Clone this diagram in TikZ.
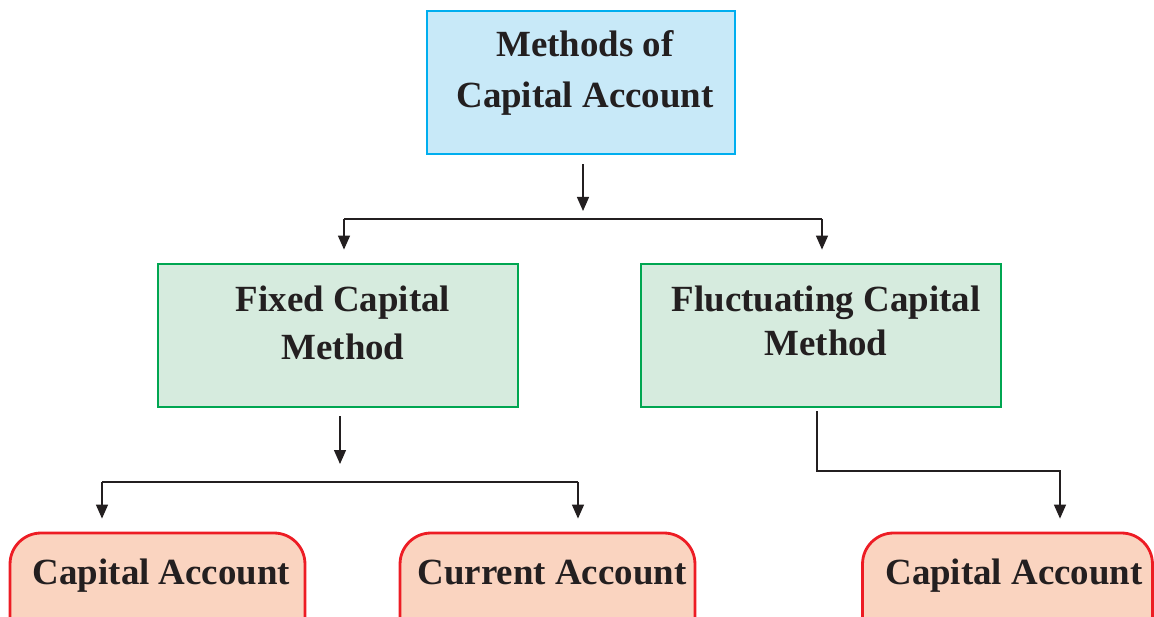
\documentclass[tikz,border=0pt]{standalone}
\usepackage{fontspec}
\setmainfont{Liberation Serif}
\usetikzlibrary{arrows.meta,positioning}
\definecolor{topblue}{RGB}{0,174,239}
\definecolor{topfill}{RGB}{200,233,248}
\definecolor{midgreen}{RGB}{0,166,81}
\definecolor{midfill}{RGB}{214,235,222}
\definecolor{lowred}{RGB}{237,28,36}
\definecolor{lowfill}{RGB}{250,212,192}
\definecolor{inkgray}{RGB}{35,31,32}
\tikzset{
  boxtext/.style={font=\fontsize{21}{27}\selectfont\bfseries, text=inkgray, align=center, inner sep=0pt},
  topbox/.style={draw=topblue, fill=topfill, line width=1.6pt, minimum width=6.16cm, minimum height=2.86cm},
  methodbox/.style={draw=midgreen, fill=midfill, line width=1.6pt, minimum width=7.2cm, minimum height=2.86cm},
  accbox/.style={draw=lowred, fill=lowfill, line width=1.6pt, rounded corners=0.62cm, minimum height=2.4cm},
  link/.style={draw=inkgray, line width=0.8pt},
  linkarrow/.style={link, -{Triangle[length=2.8mm, width=2.4mm]}}
}
\begin{document}
\begin{tikzpicture}[x=0.02cm, y=-0.02cm]
\clip (0,0) rectangle (1154,617);
% Top box
\node[topbox] (top) at (581,82.5) {};
\node[boxtext, font=\fontsize{21}{28.7}\selectfont\bfseries] (toptext) at (585,73) {Methods of\\Capital Account};
% Method boxes
\node[methodbox] (fixed) at (338,335.5) {};
\node[boxtext] (fixedtext) at (343,323) {Fixed Capital\\Method};
\node[methodbox] (fluct) at (821,335.5) {};
\node[boxtext, font=\fontsize{21}{25}\selectfont\bfseries] (flucttext) at (826,321) {Fluctuating Capital\\Method};
% Account boxes
\node[accbox, minimum width=5.9cm] (capa) at (157.5,593) {};
\node[boxtext, anchor=base] (capatext) at (161.5,585) {Capital Account};
\node[accbox, minimum width=5.9cm] (cura) at (547.5,593) {};
\node[boxtext, anchor=base] (curatext) at (552,585) {Current Account};
\node[accbox, minimum width=5.8cm] (capb) at (1007.5,593) {};
\node[boxtext, anchor=base] (capbtext) at (1014,585) {Capital Account};
% Split points
\coordinate (topsplit) at (583,219);
\coordinate (topleft) at (344,219);
\coordinate (topright) at (822,219);
\coordinate (fixedsplit) at (340,482);
\coordinate (lowleft) at (102,482);
\coordinate (lowright) at (578,482);
\coordinate (fluctbend) at (817,471);
\coordinate (fluctend) at (1060,471);
% Arrows from top
\draw[linkarrow, shorten <=0.18cm, shorten >=0.16cm] (top.south -| topsplit) -- (topsplit);
\draw[link] (topleft) -- (topright);
\draw[linkarrow, shorten >=0.26cm] (topleft) -- (topleft |- fixed.north);
\draw[linkarrow, shorten >=0.26cm] (topright) -- (topright |- fluct.north);
% Arrows from fixed capital method
\draw[linkarrow, shorten <=0.16cm, shorten >=0.36cm] (fixed.south -| fixedsplit) -- (fixedsplit);
\draw[link] (lowleft) -- (lowright);
\draw[linkarrow, shorten >=0.26cm] (lowleft) -- (lowleft |- capa.north);
\draw[linkarrow, shorten >=0.26cm] (lowright) -- (lowright |- cura.north);
% Arrow from fluctuating capital method
\draw[linkarrow, shorten <=0.06cm, shorten >=0.26cm] (fluct.south -| fluctbend) -- (fluctbend) -- (fluctend) -- (fluctend |- capb.north);
\end{tikzpicture}
\end{document}
